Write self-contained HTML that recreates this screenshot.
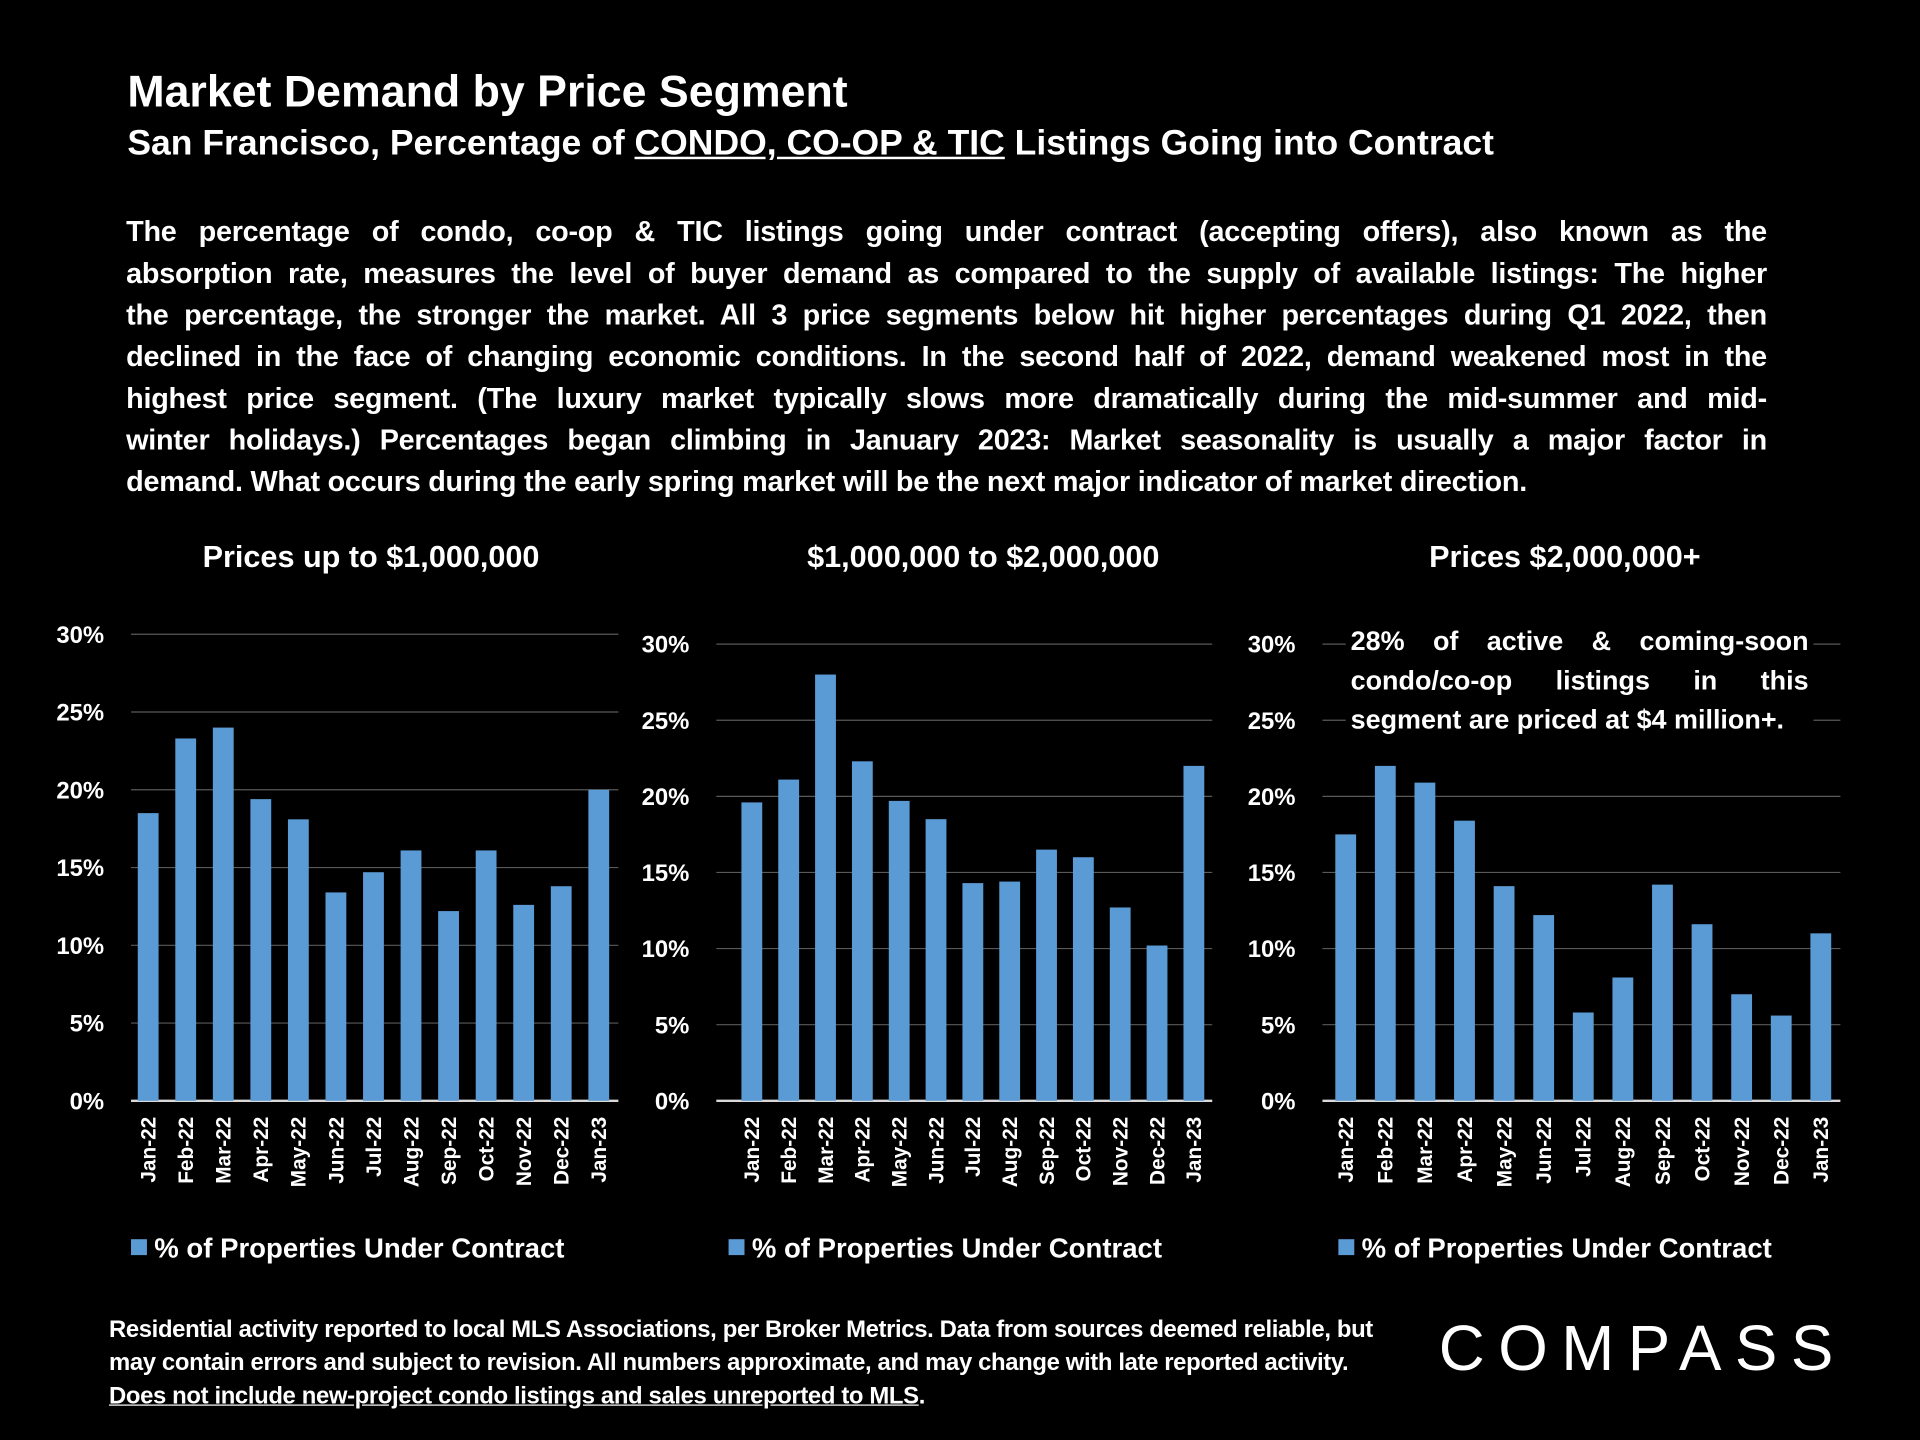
<!DOCTYPE html>
<html><head><meta charset="utf-8">
<style>
html,body{margin:0;padding:0;background:#000;width:1920px;height:1440px;overflow:hidden}
#root{position:absolute;left:0;top:0;width:1568px;height:1176px;transform:scale(1.22449);transform-origin:0 0;color:#fff;font-family:"Liberation Sans",sans-serif}
.t{position:absolute;font-weight:bold;white-space:nowrap}
#para{position:absolute;left:103px;top:172px;width:1340px;font-size:23.5px;line-height:34px;font-weight:bold;letter-spacing:-0.2px}
#para div{text-align:justify;text-align-last:justify;white-space:nowrap}
#para div.last{text-align-last:left}
#foot{position:absolute;left:89px;top:1073px;font-size:19.5px;line-height:27px;font-weight:bold;letter-spacing:-0.3px;white-space:nowrap}
#annot{position:absolute;left:1103px;top:508px;width:374px;font-size:22px;line-height:32px;font-weight:bold;background:#000;padding:0 4px;margin-left:-4px}
#annot div{text-align:justify;text-align-last:justify;white-space:nowrap}
#annot div.last{text-align-last:left}
svg{position:absolute;left:0;top:0}
</style></head><body>
<div id="root">
<div class="t" style="left:104px;top:54px;font-size:36.5px">Market Demand by Price Segment</div>
<div class="t" style="left:104px;top:101px;font-size:29px">San Francisco, Percentage of <u>CONDO, CO-OP &amp; TIC</u> Listings Going into Contract</div>
<div id="para">
<div>The percentage of condo, co-op &amp; TIC listings going under contract (accepting offers), also known as the</div>
<div>absorption rate, measures the level of buyer demand as compared to the supply of available listings: The higher</div>
<div>the percentage, the stronger the market. All 3 price segments below hit higher percentages during Q1 2022, then</div>
<div>declined in the face of changing economic conditions. In the second half of 2022, demand weakened most in the</div>
<div>highest price segment. (The luxury market typically slows more dramatically during the mid-summer and mid-</div>
<div>winter holidays.) Percentages began climbing in January 2023: Market seasonality is usually a major factor in</div>
<div class="last">demand. What occurs during the early spring market will be the next major indicator of market direction.</div>
</div>
<svg id="charts" width="1568" height="1176"></svg>
<div id="annot">
<div>28% of active &amp; coming-soon</div>
<div>condo/co-op listings in this</div>
<div class="last">segment are priced at $4 million+.</div>
</div>
<div id="foot">Residential activity reported to local MLS Associations, per Broker Metrics. Data from sources deemed reliable, but<br>may contain errors and subject to revision. All numbers approximate, and may change with late reported activity.<br><u>Does not include new-project condo listings and sales unreported to MLS</u>.</div>
<div class="t" style="left:1175px;top:1072px;font-size:52px;letter-spacing:11px;font-weight:normal">COMPASS</div>
</div>
<script>
const months = ["Jan-22","Feb-22","Mar-22","Apr-22","May-22","Jun-22","Jul-22","Aug-22","Sep-22","Oct-22","Nov-22","Dec-22","Jan-23"];
const tickValues = [0,5,10,15,20,25,30];
const tickLabels = ["0%","5%","10%","15%","20%","25%","30%"];
const chartTitles = ["Prices up to $1,000,000","$1,000,000 to $2,000,000","Prices $2,000,000+"];
const seriesUnder1M = [18.5,23.3,24.0,19.4,18.1,13.4,14.7,16.1,12.2,16.1,12.6,13.8,20.0];
const series1to2M = [19.6,21.1,28.0,22.3,19.7,18.5,14.3,14.4,16.5,16.0,12.7,10.2,22.0];
const series2Mplus = [17.5,22.0,20.9,18.4,14.1,12.2,5.8,8.1,14.2,11.6,7.0,5.6,11.0];
const allSeries = [seriesUnder1M,series1to2M,series2Mplus];
const layouts = [
 {x0:107,x1:505,yTop:518,yBot:899,first:121,last:489,tx:303,lx:107},
 {x0:585,x1:990,yTop:526,yBot:899,first:614,last:975,tx:803,lx:595},
 {x0:1080,x1:1503,yTop:526,yBot:899,first:1099,last:1487,tx:1278,lx:1093}
];
const NS="http://www.w3.org/2000/svg";
const svg=document.getElementById('charts');
function mk(tag,attrs,parent){const e=document.createElementNS(NS,tag);for(const k in attrs)e.setAttribute(k,attrs[k]);(parent||svg).appendChild(e);return e;}
layouts.forEach((L,ci)=>{
 const g=mk('g',{});
 
 
 const y=v=>L.yBot-(v/30)*(L.yBot-L.yTop);
 const step=(L.last-L.first)/(months.length-1);
 const x=i=>L.first+i*step;
 const t=mk('text',{x:L.tx,y:463,'text-anchor':'middle',fill:'#fff','font-size':25,'font-weight':'bold'},g);
 t.textContent=chartTitles[ci];
 
 
 tickValues.forEach((v,i)=>{
  const ln=mk('line',{x1:L.x0,x2:L.x1,y1:y(v),y2:y(v),stroke:v===0?'#d9d9d9':'#595959','stroke-width':v===0?2:1},g);
  
  
  const tl=mk('text',{x:L.x0-22,y:y(v)+7,'text-anchor':'end',fill:'#fff','font-size':19.5,'font-weight':'bold'},g);
  tl.textContent=tickLabels[i];
  
  
 });
 allSeries[ci].forEach((v,i)=>{
  const b=mk('rect',{x:x(i)-8.5,y:y(v),width:17,height:L.yBot-y(v),fill:'#5b9bd5'},g);
  
  
  const xl=mk('text',{transform:`translate(${x(i)+6},912) rotate(-90)`,'text-anchor':'end',fill:'#fff','font-size':17,'font-weight':'bold'},g);
  xl.textContent=months[i];
  
  
 });
 const ls=mk('rect',{x:L.lx,y:1012,width:13,height:13,fill:'#5b9bd5'},g);
 
 
 const lt=mk('text',{x:L.lx+19,y:1027,fill:'#fff','font-size':22.5,'font-weight':'bold'},g);
 lt.textContent='% of Properties Under Contract';
 
 
});
</script>
</body></html>
